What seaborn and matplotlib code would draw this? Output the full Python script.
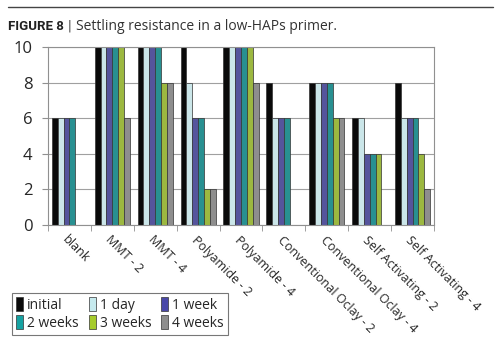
import matplotlib
matplotlib.use("Agg")
import matplotlib.pyplot as plt
import seaborn as sns
import pandas as pd
import numpy as np
from matplotlib.lines import Line2D

categories = ["blank", "MMT - 2", "MMT - 4", "Polyamide - 2", "Polyamide - 4",
              "Conventional Oclay - 2", "Conventional Oclay - 4",
              "Self Activating - 2", "Self Activating - 4"]
series = ["initial", "1 day", "1 week", "2 weeks", "3 weeks", "4 weeks"]
initial = [6, 10, 10, 10, 10, 8, 8, 6, 8]
day1 = [6, 10, 10, 8, 10, 6, 8, 6, 6]
week1 = [6, 10, 10, 6, 10, 6, 8, 4, 6]
week2 = [6, 10, 10, 6, 10, 6, 8, 4, 6]
week3 = [0, 10, 8, 2, 10, 0, 6, 4, 4]
week4 = [0, 6, 8, 2, 8, 0, 6, 0, 2]
colors = ["#0a0a0a", "#c6eaee", "#4a48a8", "#16a2a2", "#a6cc2c", "#8e8e8e"]

sns.set_style("white")
plt.rcParams['font.family'] = ['Open Sans', 'DejaVu Sans']

rows = []
for s, vals in zip(series, [initial, day1, week1, week2, week3, week4]):
    for c, v in zip(categories, vals):
        rows.append({"cat": c, "series": s, "value": v})
df = pd.DataFrame(rows)

fig = plt.figure(figsize=(5, 3.45), dpi=100)
ax = fig.add_axes([48/500, 1 - 225/345, (434-48)/500, (225-47)/345])
sns.barplot(data=df, x="cat", y="value", hue="series", order=categories,
            hue_order=series, palette=colors, width=0.82, gap=0, ax=ax,
            edgecolor="#333333", linewidth=0.5, legend=False, errorbar=None)

ax.set_ylim(0, 10)
ax.set_xlim(-0.5, len(categories) - 0.5)
ax.set_yticks([0, 2, 4, 6, 8, 10])
ax.yaxis.grid(True, color="#a0a0a0", linewidth=0.8)
ax.set_axisbelow(True)
for sp in ax.spines.values():
    sp.set_color("#909090")
    sp.set_linewidth(0.8)
ax.set_xlabel("")
ax.set_ylabel("")
ax.tick_params(axis="y", labelsize=12, length=4, color="#909090", left=True, pad=7)
ax.set_xticks(range(len(categories)))
ax.set_xticklabels(categories, rotation=-45, ha="left", rotation_mode="anchor", fontsize=9)
ax.tick_params(axis="x", length=0, pad=6)
ax.set_xticks(np.arange(-0.5, len(categories)), minor=True)
ax.tick_params(axis="x", which="minor", length=4, color="#909090", bottom=True)

handles = [plt.Rectangle((0, 0), 1, 1, facecolor=c, edgecolor="#333333", linewidth=0.5) for c in colors]
order = [0, 3, 1, 4, 2, 5]
leg = fig.legend([handles[i] for i in order], [series[i] for i in order], ncol=3,
                 loc="lower left", bbox_to_anchor=(12/500, 1 - 335/345, 216/500, 47/345),
                 mode="expand", frameon=True, fancybox=False, fontsize=10,
                 handlelength=0.5, handleheight=1.1, handletextpad=0.3,
                 columnspacing=0.8, borderaxespad=0, labelspacing=0.2, borderpad=0.3)
leg.get_frame().set_edgecolor("#555555")
leg.get_frame().set_linewidth(0.8)

fig.add_artist(Line2D([8/500, 493/500], [1 - 7/345, 1 - 7/345], color="#444444", linewidth=1.0))
ty = 1 - 27/345
t1 = fig.text(8/500, ty, "FIGURE 8", fontsize=9.5, fontweight="bold", va="center", ha="left",
              color="#222222", family=["Roboto", "DejaVu Sans"])
renderer = fig.canvas.get_renderer()
x1 = t1.get_window_extent(renderer).x1
t2 = fig.text((x1 + 4) / 500, ty, "|", fontsize=10.5, va="center", ha="left", color="#555555",
              family=["Roboto", "DejaVu Sans"])
x2 = t2.get_window_extent(renderer).x1
fig.text((x2 + 4) / 500, ty, "Settling resistance in a low-HAPs primer.", fontsize=10, va="center",
         ha="left", color="#333333")

fig.savefig("out.png", dpi=100)
